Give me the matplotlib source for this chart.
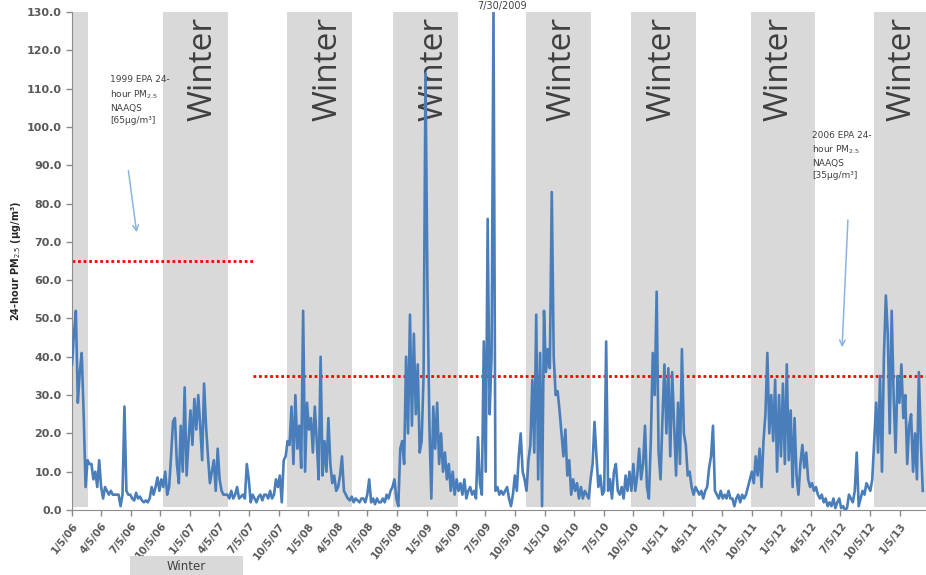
import pandas as pd
import matplotlib
matplotlib.use('Agg')
import matplotlib.pyplot as plt
import matplotlib.dates as mdates
import matplotlib.ticker as mticker
from matplotlib.patches import Rectangle

# 24-hour PM2.5 readings, one every 6 days starting 1/5/06
start = '2006-01-05'
step_days = 6
pm25 = [
    38, 46, 52, 28, 36, 41, 25, 6, 13, 12,
    12, 8, 10, 6, 13, 6, 3, 6, 5, 4,
    5, 4, 4, 4, 4, 1, 4, 27, 5, 4,
    4, 3, 2.5, 4.5, 3, 3.5, 2.5, 2, 2.5, 2,
    3, 6, 4, 6, 8.5, 5, 8, 6, 10, 4,
    6, 14, 23, 24, 12, 7, 22, 10, 32, 9,
    18, 26, 17, 29, 21, 30, 22, 13, 33, 22,
    14, 7, 10, 13, 5, 16, 8, 5, 4, 4,
    4, 3, 5, 3, 4, 6, 3, 3.5, 4, 3,
    12, 8, 2, 4, 3, 2, 3.5, 4, 2.5, 4,
    4, 3, 5, 3, 4, 8, 6, 9, 2, 13,
    14, 18, 17, 27, 12, 30, 16, 22, 11, 52,
    10, 28, 21, 24, 15, 27, 18, 8, 40, 9,
    18, 10, 24, 12, 7, 9, 5, 6, 9, 14,
    5, 4, 3, 2.5, 3.5, 2, 3, 2.5, 2, 3,
    3, 2, 4, 8, 2, 3, 1.5, 3, 2, 2,
    3, 2, 4, 3, 5, 6, 8, 3, 1, 16,
    18, 12, 40, 20, 51, 22, 46, 25, 38, 15,
    18, 35, 114, 58, 22, 3, 27, 16, 28, 12,
    20, 10, 15, 8, 12, 5, 10, 4, 8, 5,
    7, 4, 8, 3, 5, 6, 4, 5, 3, 19,
    7, 4, 44, 10, 76, 25, 40, 130, 5, 6,
    4, 5, 4, 5, 6, 3, 1, 4, 9, 5,
    14, 20, 10, 8, 5, 13, 17, 34, 15, 51,
    8, 41, 1, 52, 36, 42, 37, 83, 40, 30,
    31, 26, 20, 14, 21, 9, 13, 4, 8, 5,
    7, 3, 6, 3, 5, 4, 3, 8, 12, 23,
    14, 6, 9, 4, 5, 44, 5, 8, 3, 10,
    12, 5, 4, 6, 3, 9, 5, 10, 5, 12,
    5, 9, 16, 8, 12, 22, 6, 3, 18, 41,
    30, 57, 15, 8, 24, 38, 20, 37, 14, 36,
    22, 9, 28, 12, 42, 20, 17, 9, 10, 6,
    4, 6, 5, 4, 5, 3, 5, 6, 11, 14,
    22, 5, 4, 3, 5, 3, 4, 3, 5, 3,
    3, 1, 3, 4, 2, 4, 3, 4, 6, 8,
    10, 7, 14, 9, 16, 6, 18, 25, 41, 20,
    30, 18, 34, 10, 30, 14, 33, 12, 38, 13,
    26, 6, 24, 9, 4, 12, 17, 11, 15, 8,
    6, 7, 5, 6, 4, 3, 4, 2, 3, 1,
    2, 1, 3, 0.5, 2, 3, 0.5, 1, 0, 0.5,
    4, 3, 2, 5, 15, 1, 3, 5, 4, 7,
    6, 5, 8, 18, 28, 15, 35, 10, 40, 56,
    46, 20, 52, 30, 15, 35, 28, 38, 24, 30,
    12, 22, 25, 10, 20, 8, 36, 18, 5,
]

# winter shading (hand drawn on the original slide)
winter_start = ['2005-12-20', '2006-10-13', '2007-10-31', '2008-09-23',
                '2009-11-06', '2010-09-29', '2011-10-02', '2012-10-17']
winter_end = ['2006-02-24', '2007-05-02', '2008-05-18', '2009-04-12',
              '2010-05-27', '2011-04-18', '2012-04-18', '2013-06-01']
winter_label_at = [None, '2007-02-13', '2008-03-05', '2009-01-27',
                   '2010-02-26', '2011-01-03', '2011-12-28', '2013-01-11']

naaqs_1999 = 65.0
naaqs_2006 = 35.0
naaqs_switch = '2007-07-18'
peak_date = '2009-07-30'
peak_text = '7/30/2009'

dates = pd.date_range(start, periods=len(pm25), freq=f'{step_days}D')
x0 = pd.Timestamp('2006-01-05')
x1 = pd.Timestamp('2013-03-27')

fig = plt.figure(figsize=(9.26, 5.75), dpi=100)
ax = fig.add_axes([72 / 926, 65 / 575, 854 / 926, 498 / 575])

for s, e, lab in zip(winter_start, winter_end, winter_label_at):
    ax.axvspan(pd.Timestamp(s), pd.Timestamp(e), ymin=0.006, ymax=1.0,
               color='#d9d9d9', lw=0, zorder=0)
    if lab is not None:
        ax.text(pd.Timestamp(lab), 128.6, 'Winter', rotation=90,
                ha='center', va='top', fontsize=24, color='#404040',
                family='Open Sans', zorder=1)

# standards
ax.plot([x0, pd.Timestamp(naaqs_switch)], [naaqs_1999, naaqs_1999],
        color='#ff0000', lw=2, ls=(0, (1, 1)), zorder=2)
ax.plot([pd.Timestamp(naaqs_switch), x1], [naaqs_2006, naaqs_2006],
        color='#ff0000', lw=2, ls=(0, (1, 1)), zorder=2)

ax.plot(dates, pm25, color='#4a7ebb', lw=1.9, zorder=3)

ax.set_xlim(x0, x1)
ax.set_ylim(0, 130)
ax.yaxis.set_major_locator(mticker.MultipleLocator(10))
ax.yaxis.set_major_formatter(mticker.FormatStrFormatter('%.1f'))
ax.xaxis.set_major_locator(mdates.MonthLocator(bymonth=[1, 4, 7, 10], bymonthday=5))
ax.xaxis.set_major_formatter(mdates.DateFormatter('%-m/%-d/%y'))

for side in ['top', 'right']:
    ax.spines[side].set_visible(False)
for side in ['left', 'bottom']:
    ax.spines[side].set_color('#8c8c8c')
ax.tick_params(axis='both', colors='#8c8c8c', labelcolor='#595959',
               direction='out', length=4, width=1)
for lbl in ax.get_yticklabels():
    lbl.set_fontsize(8)
    lbl.set_fontweight('bold')
for lbl in ax.get_xticklabels():
    lbl.set_fontsize(7.5)
    lbl.set_fontweight('bold')
    lbl.set_rotation(52)
    lbl.set_ha('right')
    lbl.set_rotation_mode('anchor')

ax.set_ylabel('24-hour PM$_{2.5}$ (µg/m³)', fontsize=7, fontweight='bold',
              color='#262626')
ax.yaxis.set_label_coords(-0.057, 0.5)

ax.annotate(peak_text, xy=(pd.Timestamp(peak_date), 130), xytext=(6, 4.5),
            textcoords='offset points', ha='center', va='center',
            fontsize=7, color='#404040', annotation_clip=False)

ax.text(0.0445, 0.873, '1999 EPA 24-\nhour PM$_{2.5}$\nNAAQS\n[65µg/m³]',
        transform=ax.transAxes, ha='left', va='top', fontsize=6.5,
        color='#404040', linespacing=1.45)
ax.text(0.8665, 0.762, '2006 EPA 24-\nhour PM$_{2.5}$\nNAAQS\n[35µg/m³]',
        transform=ax.transAxes, ha='left', va='top', fontsize=6.5,
        color='#404040', linespacing=1.45)
ax.annotate('', xy=(0.0761, 0.552), xytext=(0.0656, 0.687),
            xycoords='axes fraction', textcoords='axes fraction',
            arrowprops=dict(arrowstyle='->', color='#8db3e2', lw=1.1))
ax.annotate('', xy=(0.9016, 0.321), xytext=(0.9087, 0.588),
            xycoords='axes fraction', textcoords='axes fraction',
            arrowprops=dict(arrowstyle='->', color='#8db3e2', lw=1.1))

# "Winter" key below the date axis
fig.patches.append(Rectangle((130 / 926, 0), 113 / 926, 19 / 575,
                             transform=fig.transFigure, color='#d9d9d9',
                             lw=0, zorder=0))
fig.text(186 / 926, 8 / 575, 'Winter', ha='center', va='center',
         fontsize=8.5, color='#404040')

fig.savefig('out.png', dpi=100, facecolor='white')
